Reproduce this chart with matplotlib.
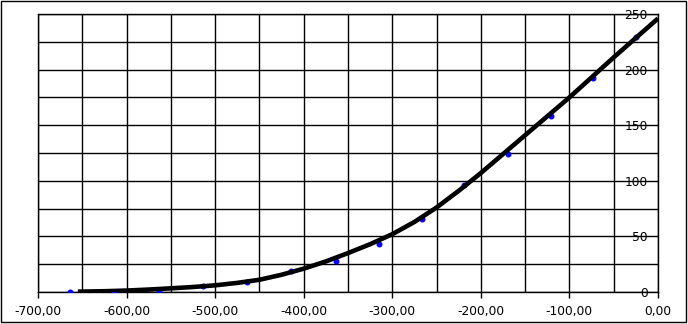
import matplotlib
matplotlib.use("Agg")
import matplotlib.pyplot as plt
from matplotlib.ticker import FuncFormatter, MultipleLocator
from matplotlib.patches import Rectangle

# Measured points (blue markers)
marker_x = [-664, -614, -563, -514, -464, -414, -364, -315, -267, -219, -169, -121, -73, -25]
marker_y = [0, 0.3, 0.6, 5, 9, 19, 28, 43, 66, 96, 124, 158, 192, 229]

# Fitted curve (thick black line)
line_x = [-655, -625, -600, -575, -550, -525, -500, -475, -450, -425, -400, -375,
          -350, -325, -300, -275, -250, -225, -200, -175, -150, -125, -100, -75,
          -50, -25, 0]
line_y = [0.3, 0.7, 1.3, 2.2, 3.3, 4.5, 6.0, 8.2, 11, 15.5, 21, 27.5,
          35, 43, 52, 63, 76, 91, 107, 124, 141, 158, 175, 193,
          211, 228.5, 246]

x_ticks = [-700, -600, -500, -400, -300, -200, -100, 0]
y_ticks = [0, 50, 100, 150, 200, 250]

W, H = 688, 324
fig = plt.figure(figsize=(W / 100, H / 100), dpi=100)
ax = fig.add_axes([38 / W, (H - 292) / H, 620 / W, 278 / H])

ax.plot(marker_x, marker_y, linestyle="none", marker="o", markersize=3.3,
        color="#0000ff", zorder=3)
ax.plot(line_x, line_y, color="black", linewidth=3.3, zorder=4,
        solid_capstyle="butt", solid_joinstyle="round")

ax.set_xlim(-700, 0)
ax.set_ylim(0, 250)
ax.set_xticks(x_ticks)
ax.xaxis.set_minor_locator(MultipleLocator(50))
ax.set_yticks(y_ticks)
ax.yaxis.set_minor_locator(MultipleLocator(25))

ax.grid(True, which="both", color="black", linewidth=1.0)
ax.set_axisbelow(True)
for s in ax.spines.values():
    s.set_color("black")
    s.set_linewidth(1.0)

ax.xaxis.set_major_formatter(FuncFormatter(lambda v, p: ("%.2f" % v).replace(".", ",")))
ax.yaxis.set_major_formatter(FuncFormatter(lambda v, p: "%d" % v))

ax.tick_params(axis="x", which="major", direction="out", length=4.5, width=1.0,
               pad=4.5, labelsize=8.8, colors="black")
ax.tick_params(axis="x", which="minor", length=0)
ax.yaxis.tick_right()
ax.tick_params(axis="y", which="both", length=0, pad=-7.5, labelsize=8.8,
               colors="black")
for lbl in ax.get_yticklabels():
    lbl.set_horizontalalignment("right")

fig.add_artist(Rectangle((0.5 / W, 2 / H), 685 / W, 321.5 / H,
                         transform=fig.transFigure, fill=False,
                         edgecolor="black", linewidth=1.0))

fig.savefig("out.png", dpi=100)
